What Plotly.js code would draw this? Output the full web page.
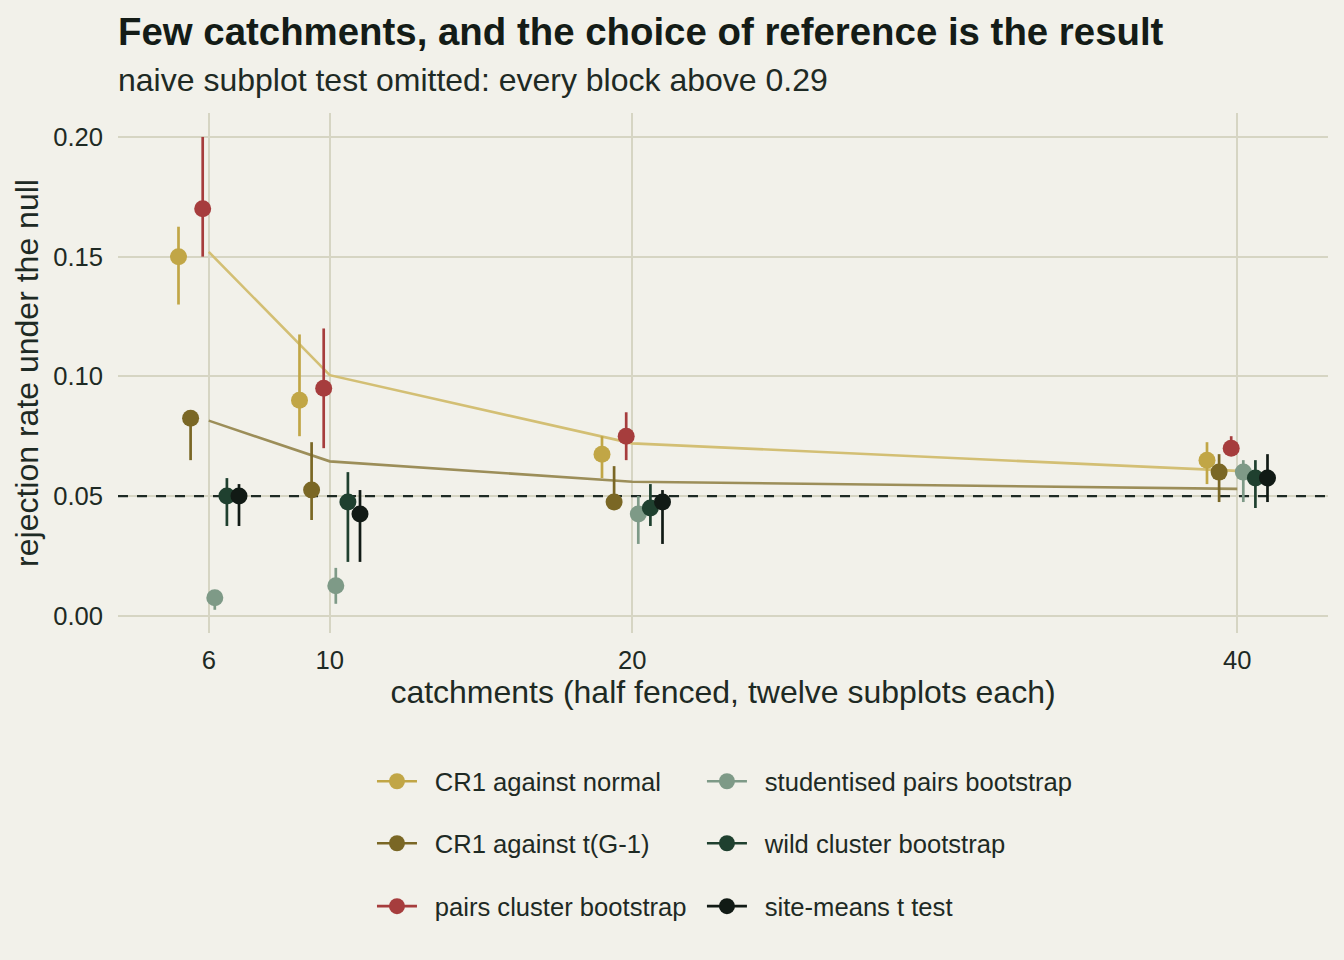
<!DOCTYPE html>
<html>
<head>
<meta charset="utf-8">
<script src="https://cdn.plot.ly/plotly-3.0.1.min.js"></script>
<style>
  html, body { margin: 0; padding: 0; background: #f2f1ea; }
  #graph { width: 1344px; height: 960px; }
</style>
</head>
<body>
<div id="graph"></div>
<script>
// catchments simulated (x axis)
const catchments = [6, 10, 20, 40];

// rejection rates under the null, with interval ends
const cr1NormalEst = [0.15, 0.09, 0.0675, 0.065];
const cr1NormalLo  = [0.13, 0.075, 0.0575, 0.055];
const cr1NormalHi  = [0.1625, 0.1175, 0.075, 0.0725];

const cr1TEst = [0.0825, 0.0525, 0.0475, 0.06];
const cr1TLo  = [0.065, 0.04, 0.045, 0.0475];
const cr1THi  = [0.085, 0.0725, 0.0625, 0.0675];

const pairsEst = [0.17, 0.095, 0.075, 0.07];
const pairsLo  = [0.15, 0.07, 0.065, 0.0675];
const pairsHi  = [0.2, 0.12, 0.085, 0.075];

const studEst = [0.0075, 0.0125, 0.0425, 0.06];
const studLo  = [0.0025, 0.005, 0.03, 0.0475];
const studHi  = [0.01, 0.02, 0.05, 0.065];

const wildEst = [0.05, 0.0475, 0.045, 0.0575];
const wildLo  = [0.0375, 0.0225, 0.0375, 0.045];
const wildHi  = [0.0575, 0.06, 0.055, 0.065];

const siteEst = [0.05, 0.0425, 0.0475, 0.0575];
const siteLo  = [0.0375, 0.0225, 0.03, 0.0475];
const siteHi  = [0.055, 0.0525, 0.0525, 0.0675];

// expected size of the CR1 tests (drawn as lines)
const cr1NormalCurve = [0.152, 0.1005, 0.072, 0.0605];
const cr1TCurve      = [0.0815, 0.0645, 0.056, 0.053];

// nominal test size
const nominal = 0.05;

const seriesNames = [
  'CR1 against normal', 'CR1 against t(G-1)', 'pairs cluster bootstrap',
  'studentised pairs bootstrap', 'wild cluster bootstrap', 'site-means t test'
];

const ink = '#1e2a24';
const colors = ['#c1a646', '#7a6725', '#a63d3d', '#7e9a87', '#1f402f', '#111a15'];
const dodge = [-1.0, -0.6, -0.2, 0.2, 0.6, 1.0];
const xRange = [3.0, 43.0];

const series = [
  [cr1NormalEst, cr1NormalLo, cr1NormalHi],
  [cr1TEst, cr1TLo, cr1THi],
  [pairsEst, pairsLo, pairsHi],
  [studEst, studLo, studHi],
  [wildEst, wildLo, wildHi],
  [siteEst, siteLo, siteHi]
];

const data = [
  {
    // dashed reference at the nominal size, across the whole panel
    x: xRange, y: [nominal, nominal], mode: 'lines', type: 'scatter',
    line: {color: ink, width: 2.2, dash: '10px,9px'}, showlegend: false, hoverinfo: 'skip'
  },
  {
    x: catchments, y: cr1NormalCurve, mode: 'lines', type: 'scatter',
    line: {color: '#d3bf74', width: 2.6}, showlegend: false, hoverinfo: 'skip'
  },
  {
    x: catchments, y: cr1TCurve, mode: 'lines', type: 'scatter',
    line: {color: '#9c8e59', width: 2.6}, showlegend: false, hoverinfo: 'skip'
  }
];

series.forEach(function (s, i) {
  const est = s[0], lo = s[1], hi = s[2];
  data.push({
    x: catchments.map(function (c) { return c + dodge[i]; }),
    y: est,
    type: 'scatter',
    mode: 'markers',
    name: seriesNames[i],
    marker: {color: colors[i], size: 17},
    error_y: {
      type: 'data', symmetric: false,
      array: hi.map(function (h, k) { return h - est[k]; }),
      arrayminus: lo.map(function (l, k) { return est[k] - l; }),
      color: colors[i], thickness: 2.7, width: 0
    },
    showlegend: false
  });
});

// legend: two columns of three, one small legend per entry
const legendIds = ['legend', 'legend2', 'legend3', 'legend4', 'legend5', 'legend6'];
series.forEach(function (s, i) {
  data.push({
    x: [null], y: [null], type: 'scatter', mode: 'lines+markers',
    name: '\u2002' + seriesNames[i],
    line: {color: colors[i], width: 2.6},
    marker: {color: colors[i], size: 17},
    legend: legendIds[i]
  });
});

function legendBox(x, y) {
  return {
    orientation: 'h', x: x, y: y, xanchor: 'left', yanchor: 'middle',
    itemwidth: 40,
    bgcolor: 'rgba(0,0,0,0)', font: {family: 'Liberation Sans', size: 25.6, color: ink},
    itemclick: false, itemdoubleclick: false
  };
}

const colX = [0.2099, 0.4826];
const rowY = [-0.2858, -0.405, -0.526];

const layout = {
  width: 1344, height: 960,
  paper_bgcolor: '#f2f1ea',
  plot_bgcolor: '#f2f1ea',
  font: {family: 'Liberation Sans, Arial, sans-serif', color: ink},
  margin: {l: 118, r: 16, t: 113, b: 327, autoexpand: false},
  title: {
    text: '<b>Few catchments, and the choice of reference is the result</b>',
    font: {family: 'Liberation Sans', size: 38.4, color: '#141c17'},
    x: 0, xref: 'paper', xanchor: 'left',
    y: 1 - 32 / 960, yref: 'container', yanchor: 'middle'
  },
  annotations: [{
    text: 'naive subplot test omitted: every block above 0.29',
    xref: 'paper', yref: 'paper', x: 0, y: 1.0644, xshift: -2,
    xanchor: 'left', yanchor: 'middle', showarrow: false,
    font: {family: 'Liberation Sans', size: 32, color: ink}
  }],
  xaxis: {
    range: xRange,
    tickvals: catchments,
    ticktext: catchments.map(String),
    showgrid: true, gridcolor: '#d6d5c3', gridwidth: 1.8,
    zeroline: false, showline: false, ticks: '',
    ticklabelstandoff: 9,
    tickfont: {family: 'Liberation Sans', size: 25.6, color: ink},
    title: {
      text: 'catchments (half fenced, twelve subplots each)',
      font: {family: 'Liberation Sans', size: 32, color: ink},
      standoff: 8
    }
  },
  yaxis: {
    range: [-0.0072, 0.21],
    tickvals: [0, 0.05, 0.1, 0.15, 0.2],
    tickformat: '.2f',
    showgrid: true, gridcolor: '#d6d5c3', gridwidth: 1.8,
    zeroline: false, showline: false, ticks: '',
    ticklabelstandoff: 14,
    tickfont: {family: 'Liberation Sans', size: 25.6, color: ink},
    title: {
      text: 'rejection rate under the null',
      font: {family: 'Liberation Sans', size: 32, color: ink},
      standoff: 4
    }
  },
  legend: legendBox(colX[0], rowY[0]),
  legend2: legendBox(colX[0], rowY[1]),
  legend3: legendBox(colX[0], rowY[2]),
  legend4: legendBox(colX[1], rowY[0]),
  legend5: legendBox(colX[1], rowY[1]),
  legend6: legendBox(colX[1], rowY[2]),
  showlegend: true
};

Plotly.newPlot('graph', data, layout, {displayModeBar: false, staticPlot: true});
</script>
</body>
</html>
